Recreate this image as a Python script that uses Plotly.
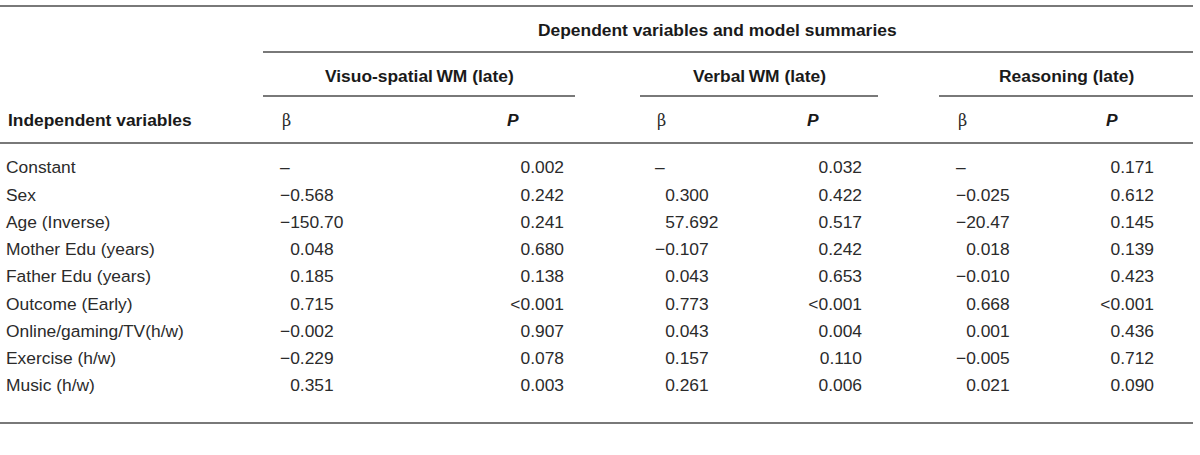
import plotly.graph_objects as go

# Data
row_labels = ["Constant", "Sex", "Age (Inverse)", "Mother Edu (years)", "Father Edu (years)",
              "Outcome (Early)", "Online/gaming/TV(h/w)", "Exercise (h/w)", "Music (h/w)"]
group_titles = ["Visuo-spatial\u2009WM (late)", "Verbal\u2009WM (late)", "Reasoning (late)"]
visuo_beta = ["–", "−0.568", "−150.70", "0.048", "0.185", "0.715", "−0.002", "−0.229", "0.351"]
visuo_p = ["0.002", "0.242", "0.241", "0.680", "0.138", "<0.001", "0.907", "0.078", "0.003"]
verbal_beta = ["–", "0.300", "57.692", "−0.107", "0.043", "0.773", "0.043", "0.157", "0.261"]
verbal_p = ["0.032", "0.422", "0.517", "0.242", "0.653", "<0.001", "0.004", "0.110", "0.006"]
reason_beta = ["–", "−0.025", "−20.47", "0.018", "−0.010", "0.668", "0.001", "−0.005", "0.021"]
reason_p = ["0.171", "0.612", "0.145", "0.139", "0.423", "<0.001", "0.436", "0.712", "0.090"]

# layout constants (pixel units)
W, H = 1200, 455
FONT = "Liberation Sans, Arial, Helvetica, sans-serif"
TXT = "#2b2b2b"
LINE = "#4d4d4d"
row_y = [169 + 27.25 * i for i in range(len(row_labels))]
beta_x = [280, 655, 956]
p_right = [564, 862, 1154]
p_head = [513, 813, 1112]
group_lines = [(263, 575), (640, 878), (939, 1193)]


def pad(v):
    # keep decimal columns aligned: non-negative numbers get an invisible minus
    if v.startswith("−") or v == "–":
        return v
    return "<span style='color:rgba(0,0,0,0)'>−</span>" + v


fig = go.Figure()
body = dict(family=FONT, size=17.4, color=TXT)
bold = dict(family=FONT, size=17.4, color="#1a1a1a")

fig.add_trace(go.Scatter(x=[6] * len(row_labels), y=row_y, text=row_labels, mode="text",
                         textposition="middle right", textfont=body, hoverinfo="skip"))

for i, (betas, ps) in enumerate([(visuo_beta, visuo_p), (verbal_beta, verbal_p), (reason_beta, reason_p)]):
    fig.add_trace(go.Scatter(x=[beta_x[i]] * len(betas), y=row_y, text=[pad(b) for b in betas],
                             mode="text", textposition="middle right", textfont=body, hoverinfo="skip"))
    fig.add_trace(go.Scatter(x=[p_right[i]] * len(ps), y=row_y, text=ps,
                             mode="text", textposition="middle left", textfont=body, hoverinfo="skip"))
    x0, x1 = group_lines[i]
    fig.add_annotation(x=(x0 + x1) / 2, y=76, text="<b>%s</b>" % group_titles[i],
                       showarrow=False, font=bold, xanchor="center", yanchor="middle")
    fig.add_annotation(x=beta_x[i], y=120, text="β", showarrow=False,
                       font=dict(family="DejaVu Serif, serif", size=16, color=TXT),
                       xanchor="left", yanchor="middle")
    fig.add_annotation(x=p_head[i], y=120, text="<b><i>P</i></b>", showarrow=False,
                       font=bold, xanchor="center", yanchor="middle")
    fig.add_shape(type="line", x0=x0, x1=x1, y0=96, y1=96, line=dict(color=LINE, width=1.5))

fig.add_annotation(x=717, y=30, text="<b>Dependent variables and model summaries</b>",
                   showarrow=False, font=bold, xanchor="center", yanchor="middle")
fig.add_annotation(x=6, y=120, text="<b>Independent variables</b>", showarrow=False,
                   font=bold, xanchor="left", yanchor="middle")

for y, x0 in [(6, 0), (52, 263), (143, 0), (423, 0)]:
    fig.add_shape(type="line", x0=x0, x1=1193, y0=y, y1=y, line=dict(color=LINE, width=1.5))

fig.update_layout(
    width=W, height=H,
    margin=dict(l=0, r=0, t=0, b=0),
    paper_bgcolor="white", plot_bgcolor="white",
    showlegend=False,
    xaxis=dict(range=[0, W], visible=False, fixedrange=True),
    yaxis=dict(range=[H, 0], visible=False, fixedrange=True),
)

fig.write_html("out.html", config={"displayModeBar": False},
               post_script="document.body.style.margin='0';document.body.style.overflow='hidden';")
